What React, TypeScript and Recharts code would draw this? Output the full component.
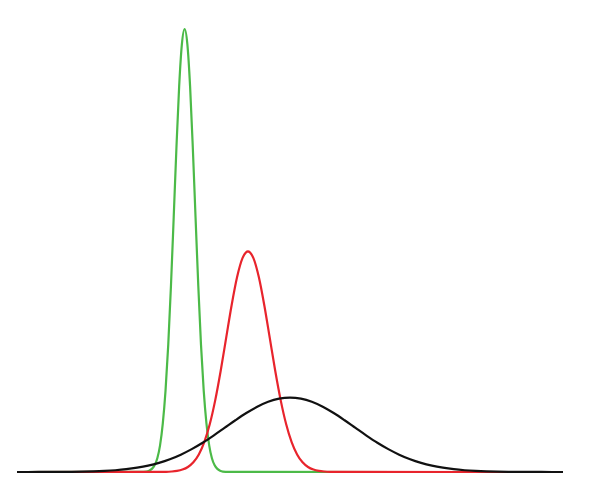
import { LineChart, Line, XAxis, YAxis } from "recharts";

// offsets from each curve's centre, and the heights
const greenCentre = 30.7;
const greenOffsets = [-8, -7, -6.5, -6, -5.5, -5, -4.5, -4, -3.5, -3, -2.5, -2, -1.5, -1, -0.5, 0, 0.5, 1, 1.5, 2, 2.5, 3, 3.5, 4, 4.5, 5, 5.5, 6, 6.5, 7, 8];
const greenValues = [0.01, 0.1, 0.29, 0.7, 1.5, 3.1, 6.0, 10.9, 18.3, 28.7, 42.1, 57.5, 73.2, 87.1, 96.6, 100, 96.6, 87.1, 73.2, 57.5, 42.1, 28.7, 18.3, 10.9, 6.0, 3.1, 1.5, 0.7, 0.29, 0.1, 0.01];

const redCentre = 42.3;
const redOffsets = [-16, -15, -14, -13, -12, -11, -10, -9, -8, -7, -6, -5, -4, -3, -2, -1, 0, 1, 2, 3, 4, 5, 6, 7, 8, 9, 10, 11, 12, 13, 14, 15, 16];
const redValues = [0.02, 0.04, 0.11, 0.25, 0.55, 1.13, 2.19, 3.96, 6.74, 10.77, 16.17, 22.8, 30.21, 37.59, 43.95, 48.27, 49.8, 48.27, 43.95, 37.59, 30.21, 22.8, 16.17, 10.77, 6.74, 3.96, 2.19, 1.13, 0.55, 0.25, 0.11, 0.04, 0.02];

const blackX = [0, 2, 4, 6, 8, 10, 12, 14, 16, 18, 20, 22, 24, 26, 28, 30, 32, 34, 36, 38, 40, 42, 44, 46, 48, 50, 52, 54, 56, 58, 60, 62, 64, 66, 68, 70, 72, 74, 76, 78, 80, 82, 84, 86, 88, 90, 92, 94, 96, 98, 100];
const blackValues = [0.002, 0.004, 0.008, 0.015, 0.027, 0.05, 0.088, 0.15, 0.25, 0.4, 0.63, 0.97, 1.43, 2.06, 2.88, 3.92, 5.17, 6.61, 8.23, 9.95, 11.68, 13.31, 14.73, 15.85, 16.56, 16.8, 16.56, 15.85, 14.73, 13.31, 11.68, 9.95, 8.23, 6.61, 5.17, 3.92, 2.88, 2.06, 1.43, 0.97, 0.63, 0.4, 0.25, 0.15, 0.088, 0.05, 0.027, 0.015, 0.008, 0.004, 0.002];

const xMin = 0;
const xMax = 100;

const withEnds = (pts: { x: number; y: number }[]) => [
  { x: xMin, y: 0 },
  ...pts,
  { x: xMax, y: 0 },
];

const greenData = withEnds(greenOffsets.map((d, i) => ({ x: greenCentre + d, y: greenValues[i] })));
const redData = withEnds(redOffsets.map((d, i) => ({ x: redCentre + d, y: redValues[i] })));
const blackData = blackX.map((x, i) => ({ x, y: blackValues[i] }));

export default function App() {
  return (
    <div style={{ width: 576, height: 476 }}>
      <LineChart width={576} height={476} margin={{ top: 21, right: 21, bottom: 12, left: 9 }}>
        <XAxis
          type="number"
          dataKey="x"
          domain={[xMin, xMax]}
          allowDataOverflow
          tick={false}
          tickLine={false}
          height={0}
          axisLine={{ stroke: "#000", strokeWidth: 2 }}
        />
        <YAxis hide type="number" domain={[0, 100]} />
        <Line data={greenData} dataKey="y" type="monotone" stroke="#4cba48" strokeWidth={2.2} dot={false} isAnimationActive={false} />
        <Line data={redData} dataKey="y" type="monotone" stroke="#e8242c" strokeWidth={2.2} dot={false} isAnimationActive={false} />
        <Line data={blackData} dataKey="y" type="monotone" stroke="#111" strokeWidth={2.2} dot={false} isAnimationActive={false} />
      </LineChart>
    </div>
  );
}
